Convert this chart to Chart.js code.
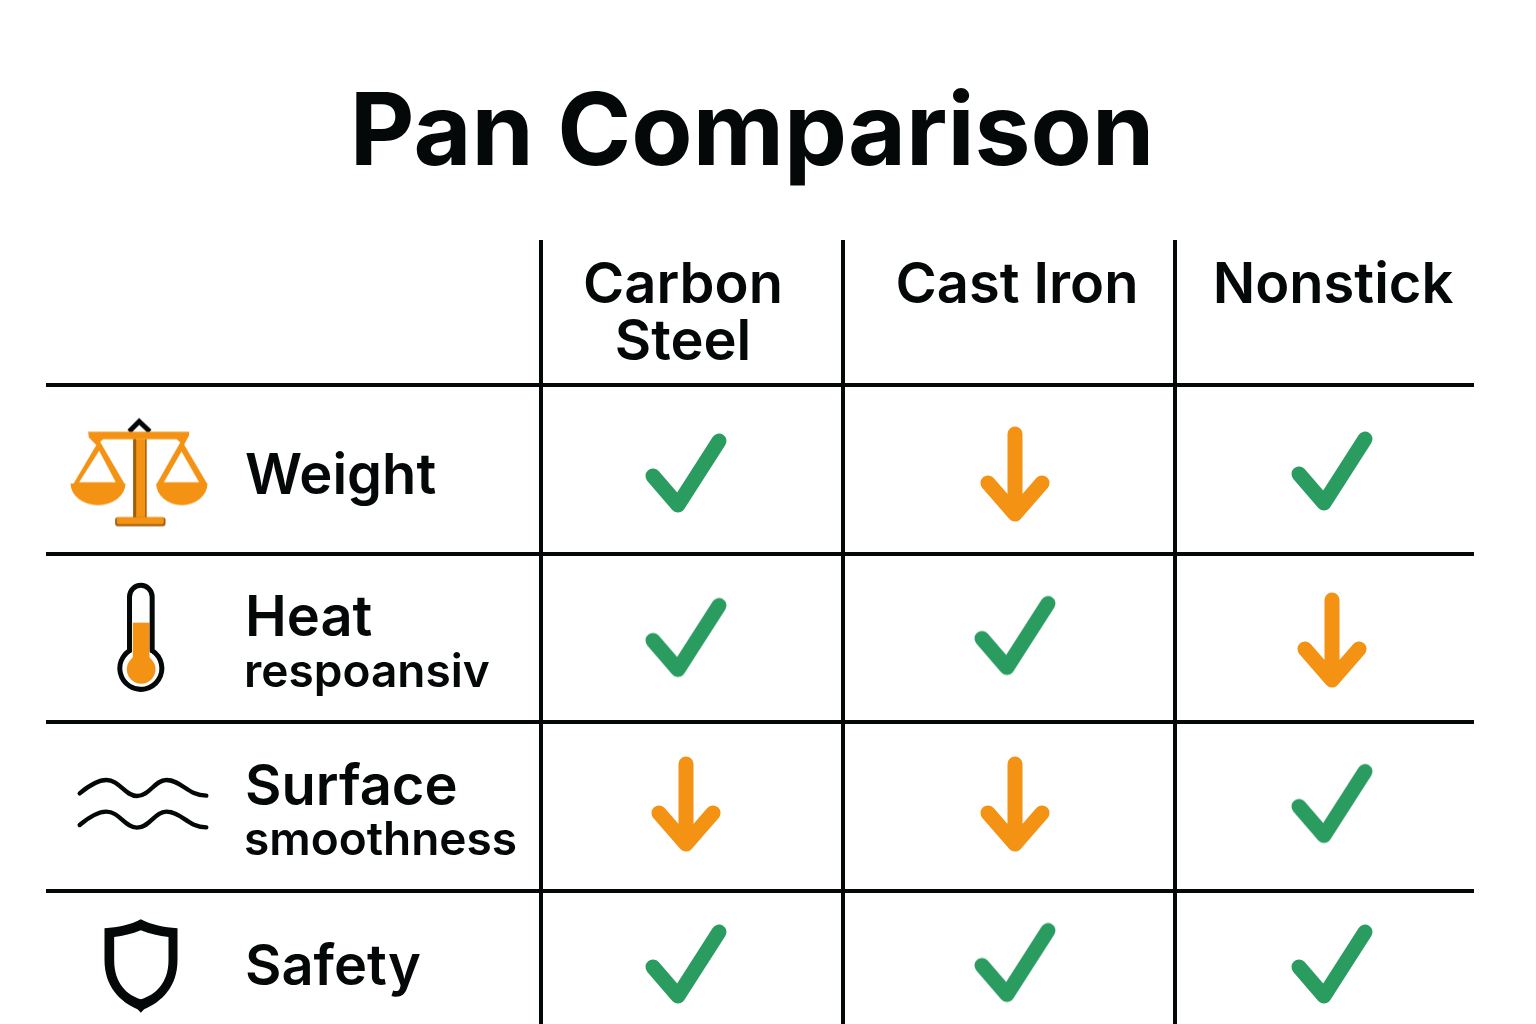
<!DOCTYPE html>
<html>
<head>
<meta charset="utf-8">
<title>Pan Comparison</title>
<script src="https://cdn.jsdelivr.net/npm/chart.js@4/dist/chart.umd.min.js"></script>
<style>
    html, body { margin: 0; padding: 0; background: #ffffff; }
    canvas { display: block; }
</style>
</head>
<body>
<canvas id="panChart" width="1536" height="1024"></canvas>
<script>
// Table content
const chartTitle = 'Pan Comparison';
const columnLabels = [['Carbon', 'Steel'], ['Cast Iron'], ['Nonstick']];
const rowLabels = ['Weight', 'Heat', 'Surface', 'Safety'];
const rowSubLabels = ['', 'respoansiv', 'smoothness', ''];

// Ratings per pan, one per row
const carbonSteel = ['check', 'check', 'down', 'check'];
const castIron = ['down', 'check', 'down', 'check'];
const nonstick = ['check', 'down', 'check', 'check'];

// Axis rule positions
const columnRules = [541, 843, 1175];
const rowRules = [385, 554, 722, 891];

const GREEN = '#2a9c60';
const ORANGE = '#f39213';
const BROWN = '#a25c10';
const INK = '#050808';

// Builds a canvas used as a point style. Icons are traced in 3x units around (cx, cy)
function makeGlyph(size, cx, cy, unit, draw) {
    const glyph = document.createElement('canvas');
    glyph.width = size;
    glyph.height = size;
    const g = glyph.getContext('2d');
    g.translate(size / 2, size / 2);
    g.scale(unit, unit);
    g.translate(-cx, -cy);
    g.lineCap = 'round';
    g.lineJoin = 'round';
    draw(g);
    return glyph;
}

function polygon(g, pts) {
    g.beginPath();
    pts.forEach((p, i) => i ? g.lineTo(p[0], p[1]) : g.moveTo(p[0], p[1]));
    g.closePath();
}

const checkGlyph = makeGlyph(100, 0, 0, 1, (g) => {
    g.strokeStyle = GREEN;
    g.lineWidth = 15;
    g.beginPath();
    g.moveTo(-33, 3);
    g.lineTo(-8, 32);
    g.lineTo(33, -32);
    g.stroke();
});

const downGlyph = makeGlyph(100, 0, 0, 1, (g) => {
    g.strokeStyle = ORANGE;
    g.lineWidth = 15;
    g.beginPath();
    g.moveTo(0, -40);
    g.lineTo(0, 40);
    g.moveTo(-27, 9);
    g.lineTo(0, 40);
    g.lineTo(27, 9);
    g.stroke();
});

const scaleIcon = makeGlyph(160, 297.5, 244, 1 / 3, (g) => {
    g.strokeStyle = INK;
    g.lineWidth = 15;
    g.lineCap = 'butt';
    g.lineJoin = 'miter';
    g.beginPath();
    g.moveTo(268, 124);
    g.lineTo(298, 94);
    g.lineTo(330, 124);
    g.stroke();

    g.fillStyle = ORANGE;
    polygon(g, [[178, 150], [100, 282], [255, 282]]);
    g.fill();
    polygon(g, [[425, 150], [350, 282], [503, 282]]);
    g.fill();
    g.fillStyle = '#ffffff';
    polygon(g, [[178, 182], [118, 276], [228, 276]]);
    g.fill();
    polygon(g, [[425, 184], [372, 276], [478, 276]]);
    g.fill();

    g.fillStyle = ORANGE;
    polygon(g, [[145, 125], [448, 125], [448, 135], [432, 165], [410, 147], [190, 147], [170, 165], [147, 142]]);
    g.fill();
    g.beginPath();
    g.ellipse(174.5, 280, 82.5, 65, 0, 0, Math.PI);
    g.fill();
    g.beginPath();
    g.ellipse(426, 280, 77, 65, 0, 0, Math.PI);
    g.fill();

    g.fillRect(280, 147, 40, 236);
    g.fillStyle = BROWN;
    g.fillRect(280, 147, 9, 236);
    g.fillRect(316, 147, 4, 236);

    g.fillStyle = BROWN;
    g.beginPath();
    g.roundRect(226, 381, 151, 27, 8);
    g.fill();
    g.fillStyle = ORANGE;
    g.beginPath();
    g.roundRect(231, 381, 141, 21, 5);
    g.fill();
});

const thermometerIcon = makeGlyph(160, 302.5, 741, 1 / 3, (g) => {
    g.fillStyle = ORANGE;
    g.fillRect(278, 698, 50, 110);
    g.beginPath();
    g.arc(303, 838, 43, 0, Math.PI * 2);
    g.fill();

    const neck = Math.atan2(53, 34);
    g.strokeStyle = INK;
    g.lineWidth = 15;
    g.beginPath();
    g.moveTo(268, 782);
    g.lineTo(268, 620);
    g.arc(302, 620, 34, Math.PI, 0);
    g.lineTo(336, 782);
    g.arc(302, 835, 63, -neck, Math.PI + neck);
    g.stroke();
});

const wavesIcon = makeGlyph(160, 310, 222, 1 / 3, (g) => {
    g.strokeStyle = INK;
    g.lineWidth = 13;
    [0, 95].forEach((dy) => {
        g.beginPath();
        g.moveTo(120, 190 + dy);
        g.bezierCurveTo(150, 165 + dy, 175, 150 + dy, 200, 150 + dy);
        g.bezierCurveTo(240, 150 + dy, 255, 198 + dy, 292, 198 + dy);
        g.bezierCurveTo(330, 198 + dy, 345, 150 + dy, 380, 150 + dy);
        g.bezierCurveTo(425, 150 + dy, 445, 197 + dy, 500, 197 + dy);
        g.stroke();
    });
});

const shieldIcon = makeGlyph(160, 302.5, 708, 1 / 3, (g) => {
    g.fillStyle = INK;
    g.beginPath();
    g.moveTo(302, 568);
    g.bezierCurveTo(335, 585, 370, 592, 412, 595);
    g.lineTo(412, 690);
    g.bezierCurveTo(412, 770, 365, 815, 312, 838);
    g.lineTo(302, 848);
    g.lineTo(292, 838);
    g.bezierCurveTo(240, 815, 193, 770, 193, 690);
    g.lineTo(193, 595);
    g.bezierCurveTo(235, 592, 270, 585, 302, 568);
    g.closePath();
    g.moveTo(302, 601);
    g.bezierCurveTo(275, 612, 250, 618, 222, 621);
    g.lineTo(222, 690);
    g.bezierCurveTo(222, 760, 260, 795, 302, 808);
    g.bezierCurveTo(345, 795, 385, 760, 385, 690);
    g.lineTo(385, 621);
    g.bezierCurveTo(355, 618, 330, 612, 302, 601);
    g.closePath();
    g.fill('evenodd');
});

const markGlyphs = { check: checkGlyph, down: downGlyph };
const rowIcons = [scaleIcon, thermometerIcon, wavesIcon, shieldIcon];

// Where each thing sits in a cell, on the two linear axes
const columnCentres = [686, 1015, 1332];
const columnTextCentres = [683, 1017, 1333];
const carbonRowCentres = [473, 637.5, 804, 964];
const ironRowCentres = [474, 635.5, 804, 962.5];
const nonstickRowCentres = [471, 640, 803.5, 964];
const iconXs = [139, 141, 143, 141];
const iconYs = [471.5, 637, 804, 966];

function markDataset(label, ratings, centreX, centreYs) {
    return {
        label: label,
        data: ratings.map((rating, i) => ({ x: centreX, y: centreYs[i] })),
        pointStyle: ratings.map((rating) => markGlyphs[rating]),
        pointRadius: 10,
        showLine: false
    };
}

// Title, column headers and row labels
const tableTextPlugin = {
    id: 'tableText',
    afterDraw(chart) {
        const ctx = chart.ctx;
        const xScale = chart.scales.x;
        ctx.save();
        ctx.fillStyle = INK;
        ctx.textBaseline = 'alphabetic';

        ctx.textAlign = 'center';
        ctx.font = '700 100px Inter';
        ctx.fillText(chartTitle, 752, 165);

        ctx.font = '600 56px Inter';
        columnLabels.forEach((lines, c) => {
            lines.forEach((line, l) => {
                ctx.fillText(line, xScale.getPixelForValue(columnTextCentres[c]), 303 + l * 57);
            });
        });

        ctx.textAlign = 'left';
        const titleBaselines = [494, 636, 805, 985];
        const subBaselines = [0, 687, 855, 0];
        rowLabels.forEach((label, r) => {
            ctx.font = '600 56px Inter';
            ctx.fillText(label, 245, titleBaselines[r]);
            if (rowSubLabels[r]) {
                ctx.font = '600 46px Inter';
                ctx.fillText(rowSubLabels[r], 244, subBaselines[r]);
            }
        });
        ctx.restore();
    }
};

new Chart(document.getElementById('panChart'), {
    type: 'scatter',
    data: {
        datasets: [
            markDataset('Carbon Steel', carbonSteel, columnCentres[0], carbonRowCentres),
            markDataset('Cast Iron', castIron, columnCentres[1], ironRowCentres),
            markDataset('Nonstick', nonstick, columnCentres[2], nonstickRowCentres),
            {
                label: 'Icons',
                data: rowLabels.map((label, i) => ({ x: iconXs[i], y: iconYs[i] })),
                pointStyle: rowIcons,
                pointRadius: 10,
                showLine: false
            }
        ]
    },
    options: {
        responsive: false,
        animation: false,
        events: [],
        layout: { autoPadding: false, padding: { left: 46, right: 62, top: 240, bottom: 0 } },
        plugins: {
            legend: { display: false },
            title: { display: false },
            tooltip: { enabled: false }
        },
        scales: {
            x: {
                type: 'linear',
                min: 46,
                max: 1474,
                afterBuildTicks: (scale) => { scale.ticks = columnRules.map((value) => ({ value })); },
                afterFit: (scale) => { scale.height = 0; },
                grid: { color: INK, lineWidth: 4, drawTicks: false },
                border: { display: false },
                ticks: { display: false }
            },
            y: {
                type: 'linear',
                reverse: true,
                min: 240,
                max: 1024,
                afterBuildTicks: (scale) => { scale.ticks = rowRules.map((value) => ({ value })); },
                afterFit: (scale) => { scale.width = 0; },
                grid: { color: INK, lineWidth: 4, drawTicks: false },
                border: { display: false },
                ticks: { display: false }
            }
        }
    },
    plugins: [tableTextPlugin]
});
</script>
</body>
</html>
